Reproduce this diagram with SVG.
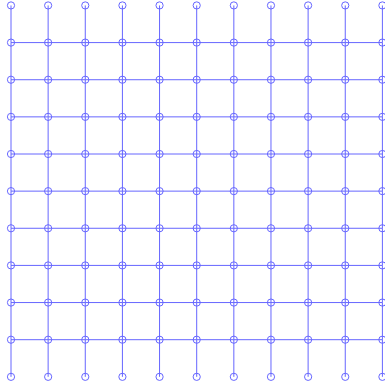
<svg xmlns="http://www.w3.org/2000/svg" xmlns:xlink="http://www.w3.org/1999/xlink" width="385" height="388" viewBox="0 0 385 388">
<style>
.e{stroke:#6666ff;stroke-width:1;fill:none}
.n{stroke:#6666ff;stroke-width:1;fill:none}
</style>
<defs><circle id="c" cx="0" cy="0" r="3.6" class="n"/></defs>
<rect width="385" height="388" fill="#ffffff"/>
<g id="connectors">
<line class="e" x1="11" y1="5.44" x2="11" y2="42.58"/><line class="e" x1="11" y1="42.58" x2="11" y2="79.72"/><line class="e" x1="11" y1="79.72" x2="11" y2="116.86"/><line class="e" x1="11" y1="116.86" x2="11" y2="154"/><line class="e" x1="11" y1="154" x2="11" y2="191.14"/><line class="e" x1="11" y1="191.14" x2="11" y2="228.28"/><line class="e" x1="11" y1="228.28" x2="11" y2="265.42"/><line class="e" x1="11" y1="265.42" x2="11" y2="302.56"/><line class="e" x1="11" y1="302.56" x2="11" y2="339.7"/><line class="e" x1="11" y1="339.7" x2="11" y2="376.84"/>
<line class="e" x1="48.14" y1="5.44" x2="48.14" y2="42.58"/><line class="e" x1="48.14" y1="42.58" x2="48.14" y2="79.72"/><line class="e" x1="48.14" y1="79.72" x2="48.14" y2="116.86"/><line class="e" x1="48.14" y1="116.86" x2="48.14" y2="154"/><line class="e" x1="48.14" y1="154" x2="48.14" y2="191.14"/><line class="e" x1="48.14" y1="191.14" x2="48.14" y2="228.28"/><line class="e" x1="48.14" y1="228.28" x2="48.14" y2="265.42"/><line class="e" x1="48.14" y1="265.42" x2="48.14" y2="302.56"/><line class="e" x1="48.14" y1="302.56" x2="48.14" y2="339.7"/><line class="e" x1="48.14" y1="339.7" x2="48.14" y2="376.84"/>
<line class="e" x1="85.28" y1="5.44" x2="85.28" y2="42.58"/><line class="e" x1="85.28" y1="42.58" x2="85.28" y2="79.72"/><line class="e" x1="85.28" y1="79.72" x2="85.28" y2="116.86"/><line class="e" x1="85.28" y1="116.86" x2="85.28" y2="154"/><line class="e" x1="85.28" y1="154" x2="85.28" y2="191.14"/><line class="e" x1="85.28" y1="191.14" x2="85.28" y2="228.28"/><line class="e" x1="85.28" y1="228.28" x2="85.28" y2="265.42"/><line class="e" x1="85.28" y1="265.42" x2="85.28" y2="302.56"/><line class="e" x1="85.28" y1="302.56" x2="85.28" y2="339.7"/><line class="e" x1="85.28" y1="339.7" x2="85.28" y2="376.84"/>
<line class="e" x1="122.42" y1="5.44" x2="122.42" y2="42.58"/><line class="e" x1="122.42" y1="42.58" x2="122.42" y2="79.72"/><line class="e" x1="122.42" y1="79.72" x2="122.42" y2="116.86"/><line class="e" x1="122.42" y1="116.86" x2="122.42" y2="154"/><line class="e" x1="122.42" y1="154" x2="122.42" y2="191.14"/><line class="e" x1="122.42" y1="191.14" x2="122.42" y2="228.28"/><line class="e" x1="122.42" y1="228.28" x2="122.42" y2="265.42"/><line class="e" x1="122.42" y1="265.42" x2="122.42" y2="302.56"/><line class="e" x1="122.42" y1="302.56" x2="122.42" y2="339.7"/><line class="e" x1="122.42" y1="339.7" x2="122.42" y2="376.84"/>
<line class="e" x1="159.56" y1="5.44" x2="159.56" y2="42.58"/><line class="e" x1="159.56" y1="42.58" x2="159.56" y2="79.72"/><line class="e" x1="159.56" y1="79.72" x2="159.56" y2="116.86"/><line class="e" x1="159.56" y1="116.86" x2="159.56" y2="154"/><line class="e" x1="159.56" y1="154" x2="159.56" y2="191.14"/><line class="e" x1="159.56" y1="191.14" x2="159.56" y2="228.28"/><line class="e" x1="159.56" y1="228.28" x2="159.56" y2="265.42"/><line class="e" x1="159.56" y1="265.42" x2="159.56" y2="302.56"/><line class="e" x1="159.56" y1="302.56" x2="159.56" y2="339.7"/><line class="e" x1="159.56" y1="339.7" x2="159.56" y2="376.84"/>
<line class="e" x1="196.7" y1="5.44" x2="196.7" y2="42.58"/><line class="e" x1="196.7" y1="42.58" x2="196.7" y2="79.72"/><line class="e" x1="196.7" y1="79.72" x2="196.7" y2="116.86"/><line class="e" x1="196.7" y1="116.86" x2="196.7" y2="154"/><line class="e" x1="196.7" y1="154" x2="196.7" y2="191.14"/><line class="e" x1="196.7" y1="191.14" x2="196.7" y2="228.28"/><line class="e" x1="196.7" y1="228.28" x2="196.7" y2="265.42"/><line class="e" x1="196.7" y1="265.42" x2="196.7" y2="302.56"/><line class="e" x1="196.7" y1="302.56" x2="196.7" y2="339.7"/><line class="e" x1="196.7" y1="339.7" x2="196.7" y2="376.84"/>
<line class="e" x1="233.84" y1="5.44" x2="233.84" y2="42.58"/><line class="e" x1="233.84" y1="42.58" x2="233.84" y2="79.72"/><line class="e" x1="233.84" y1="79.72" x2="233.84" y2="116.86"/><line class="e" x1="233.84" y1="116.86" x2="233.84" y2="154"/><line class="e" x1="233.84" y1="154" x2="233.84" y2="191.14"/><line class="e" x1="233.84" y1="191.14" x2="233.84" y2="228.28"/><line class="e" x1="233.84" y1="228.28" x2="233.84" y2="265.42"/><line class="e" x1="233.84" y1="265.42" x2="233.84" y2="302.56"/><line class="e" x1="233.84" y1="302.56" x2="233.84" y2="339.7"/><line class="e" x1="233.84" y1="339.7" x2="233.84" y2="376.84"/>
<line class="e" x1="270.98" y1="5.44" x2="270.98" y2="42.58"/><line class="e" x1="270.98" y1="42.58" x2="270.98" y2="79.72"/><line class="e" x1="270.98" y1="79.72" x2="270.98" y2="116.86"/><line class="e" x1="270.98" y1="116.86" x2="270.98" y2="154"/><line class="e" x1="270.98" y1="154" x2="270.98" y2="191.14"/><line class="e" x1="270.98" y1="191.14" x2="270.98" y2="228.28"/><line class="e" x1="270.98" y1="228.28" x2="270.98" y2="265.42"/><line class="e" x1="270.98" y1="265.42" x2="270.98" y2="302.56"/><line class="e" x1="270.98" y1="302.56" x2="270.98" y2="339.7"/><line class="e" x1="270.98" y1="339.7" x2="270.98" y2="376.84"/>
<line class="e" x1="308.12" y1="5.44" x2="308.12" y2="42.58"/><line class="e" x1="308.12" y1="42.58" x2="308.12" y2="79.72"/><line class="e" x1="308.12" y1="79.72" x2="308.12" y2="116.86"/><line class="e" x1="308.12" y1="116.86" x2="308.12" y2="154"/><line class="e" x1="308.12" y1="154" x2="308.12" y2="191.14"/><line class="e" x1="308.12" y1="191.14" x2="308.12" y2="228.28"/><line class="e" x1="308.12" y1="228.28" x2="308.12" y2="265.42"/><line class="e" x1="308.12" y1="265.42" x2="308.12" y2="302.56"/><line class="e" x1="308.12" y1="302.56" x2="308.12" y2="339.7"/><line class="e" x1="308.12" y1="339.7" x2="308.12" y2="376.84"/>
<line class="e" x1="345.26" y1="5.44" x2="345.26" y2="42.58"/><line class="e" x1="345.26" y1="42.58" x2="345.26" y2="79.72"/><line class="e" x1="345.26" y1="79.72" x2="345.26" y2="116.86"/><line class="e" x1="345.26" y1="116.86" x2="345.26" y2="154"/><line class="e" x1="345.26" y1="154" x2="345.26" y2="191.14"/><line class="e" x1="345.26" y1="191.14" x2="345.26" y2="228.28"/><line class="e" x1="345.26" y1="228.28" x2="345.26" y2="265.42"/><line class="e" x1="345.26" y1="265.42" x2="345.26" y2="302.56"/><line class="e" x1="345.26" y1="302.56" x2="345.26" y2="339.7"/><line class="e" x1="345.26" y1="339.7" x2="345.26" y2="376.84"/>
<line class="e" x1="382.4" y1="5.44" x2="382.4" y2="42.58"/><line class="e" x1="382.4" y1="42.58" x2="382.4" y2="79.72"/><line class="e" x1="382.4" y1="79.72" x2="382.4" y2="116.86"/><line class="e" x1="382.4" y1="116.86" x2="382.4" y2="154"/><line class="e" x1="382.4" y1="154" x2="382.4" y2="191.14"/><line class="e" x1="382.4" y1="191.14" x2="382.4" y2="228.28"/><line class="e" x1="382.4" y1="228.28" x2="382.4" y2="265.42"/><line class="e" x1="382.4" y1="265.42" x2="382.4" y2="302.56"/><line class="e" x1="382.4" y1="302.56" x2="382.4" y2="339.7"/><line class="e" x1="382.4" y1="339.7" x2="382.4" y2="376.84"/>
<line class="e" x1="11" y1="42.58" x2="48.14" y2="42.58"/><line class="e" x1="48.14" y1="42.58" x2="85.28" y2="42.58"/><line class="e" x1="85.28" y1="42.58" x2="122.42" y2="42.58"/><line class="e" x1="122.42" y1="42.58" x2="159.56" y2="42.58"/><line class="e" x1="159.56" y1="42.58" x2="196.7" y2="42.58"/><line class="e" x1="196.7" y1="42.58" x2="233.84" y2="42.58"/><line class="e" x1="233.84" y1="42.58" x2="270.98" y2="42.58"/><line class="e" x1="270.98" y1="42.58" x2="308.12" y2="42.58"/><line class="e" x1="308.12" y1="42.58" x2="345.26" y2="42.58"/><line class="e" x1="345.26" y1="42.58" x2="382.4" y2="42.58"/>
<line class="e" x1="11" y1="79.72" x2="48.14" y2="79.72"/><line class="e" x1="48.14" y1="79.72" x2="85.28" y2="79.72"/><line class="e" x1="85.28" y1="79.72" x2="122.42" y2="79.72"/><line class="e" x1="122.42" y1="79.72" x2="159.56" y2="79.72"/><line class="e" x1="159.56" y1="79.72" x2="196.7" y2="79.72"/><line class="e" x1="196.7" y1="79.72" x2="233.84" y2="79.72"/><line class="e" x1="233.84" y1="79.72" x2="270.98" y2="79.72"/><line class="e" x1="270.98" y1="79.72" x2="308.12" y2="79.72"/><line class="e" x1="308.12" y1="79.72" x2="345.26" y2="79.72"/><line class="e" x1="345.26" y1="79.72" x2="382.4" y2="79.72"/>
<line class="e" x1="11" y1="116.86" x2="48.14" y2="116.86"/><line class="e" x1="48.14" y1="116.86" x2="85.28" y2="116.86"/><line class="e" x1="85.28" y1="116.86" x2="122.42" y2="116.86"/><line class="e" x1="122.42" y1="116.86" x2="159.56" y2="116.86"/><line class="e" x1="159.56" y1="116.86" x2="196.7" y2="116.86"/><line class="e" x1="196.7" y1="116.86" x2="233.84" y2="116.86"/><line class="e" x1="233.84" y1="116.86" x2="270.98" y2="116.86"/><line class="e" x1="270.98" y1="116.86" x2="308.12" y2="116.86"/><line class="e" x1="308.12" y1="116.86" x2="345.26" y2="116.86"/><line class="e" x1="345.26" y1="116.86" x2="382.4" y2="116.86"/>
<line class="e" x1="11" y1="154" x2="48.14" y2="154"/><line class="e" x1="48.14" y1="154" x2="85.28" y2="154"/><line class="e" x1="85.28" y1="154" x2="122.42" y2="154"/><line class="e" x1="122.42" y1="154" x2="159.56" y2="154"/><line class="e" x1="159.56" y1="154" x2="196.7" y2="154"/><line class="e" x1="196.7" y1="154" x2="233.84" y2="154"/><line class="e" x1="233.84" y1="154" x2="270.98" y2="154"/><line class="e" x1="270.98" y1="154" x2="308.12" y2="154"/><line class="e" x1="308.12" y1="154" x2="345.26" y2="154"/><line class="e" x1="345.26" y1="154" x2="382.4" y2="154"/>
<line class="e" x1="11" y1="191.14" x2="48.14" y2="191.14"/><line class="e" x1="48.14" y1="191.14" x2="85.28" y2="191.14"/><line class="e" x1="85.28" y1="191.14" x2="122.42" y2="191.14"/><line class="e" x1="122.42" y1="191.14" x2="159.56" y2="191.14"/><line class="e" x1="159.56" y1="191.14" x2="196.7" y2="191.14"/><line class="e" x1="196.7" y1="191.14" x2="233.84" y2="191.14"/><line class="e" x1="233.84" y1="191.14" x2="270.98" y2="191.14"/><line class="e" x1="270.98" y1="191.14" x2="308.12" y2="191.14"/><line class="e" x1="308.12" y1="191.14" x2="345.26" y2="191.14"/><line class="e" x1="345.26" y1="191.14" x2="382.4" y2="191.14"/>
<line class="e" x1="11" y1="228.28" x2="48.14" y2="228.28"/><line class="e" x1="48.14" y1="228.28" x2="85.28" y2="228.28"/><line class="e" x1="85.28" y1="228.28" x2="122.42" y2="228.28"/><line class="e" x1="122.42" y1="228.28" x2="159.56" y2="228.28"/><line class="e" x1="159.56" y1="228.28" x2="196.7" y2="228.28"/><line class="e" x1="196.7" y1="228.28" x2="233.84" y2="228.28"/><line class="e" x1="233.84" y1="228.28" x2="270.98" y2="228.28"/><line class="e" x1="270.98" y1="228.28" x2="308.12" y2="228.28"/><line class="e" x1="308.12" y1="228.28" x2="345.26" y2="228.28"/><line class="e" x1="345.26" y1="228.28" x2="382.4" y2="228.28"/>
<line class="e" x1="11" y1="265.42" x2="48.14" y2="265.42"/><line class="e" x1="48.14" y1="265.42" x2="85.28" y2="265.42"/><line class="e" x1="85.28" y1="265.42" x2="122.42" y2="265.42"/><line class="e" x1="122.42" y1="265.42" x2="159.56" y2="265.42"/><line class="e" x1="159.56" y1="265.42" x2="196.7" y2="265.42"/><line class="e" x1="196.7" y1="265.42" x2="233.84" y2="265.42"/><line class="e" x1="233.84" y1="265.42" x2="270.98" y2="265.42"/><line class="e" x1="270.98" y1="265.42" x2="308.12" y2="265.42"/><line class="e" x1="308.12" y1="265.42" x2="345.26" y2="265.42"/><line class="e" x1="345.26" y1="265.42" x2="382.4" y2="265.42"/>
<line class="e" x1="11" y1="302.56" x2="48.14" y2="302.56"/><line class="e" x1="48.14" y1="302.56" x2="85.28" y2="302.56"/><line class="e" x1="85.28" y1="302.56" x2="122.42" y2="302.56"/><line class="e" x1="122.42" y1="302.56" x2="159.56" y2="302.56"/><line class="e" x1="159.56" y1="302.56" x2="196.7" y2="302.56"/><line class="e" x1="196.7" y1="302.56" x2="233.84" y2="302.56"/><line class="e" x1="233.84" y1="302.56" x2="270.98" y2="302.56"/><line class="e" x1="270.98" y1="302.56" x2="308.12" y2="302.56"/><line class="e" x1="308.12" y1="302.56" x2="345.26" y2="302.56"/><line class="e" x1="345.26" y1="302.56" x2="382.4" y2="302.56"/>
<line class="e" x1="11" y1="339.7" x2="48.14" y2="339.7"/><line class="e" x1="48.14" y1="339.7" x2="85.28" y2="339.7"/><line class="e" x1="85.28" y1="339.7" x2="122.42" y2="339.7"/><line class="e" x1="122.42" y1="339.7" x2="159.56" y2="339.7"/><line class="e" x1="159.56" y1="339.7" x2="196.7" y2="339.7"/><line class="e" x1="196.7" y1="339.7" x2="233.84" y2="339.7"/><line class="e" x1="233.84" y1="339.7" x2="270.98" y2="339.7"/><line class="e" x1="270.98" y1="339.7" x2="308.12" y2="339.7"/><line class="e" x1="308.12" y1="339.7" x2="345.26" y2="339.7"/><line class="e" x1="345.26" y1="339.7" x2="382.4" y2="339.7"/>
</g>
<g id="nodes">
<g id="n0-0"><use xlink:href="#c" x="11" y="5.44"/></g><g id="n0-1"><use xlink:href="#c" x="48.14" y="5.44"/></g><g id="n0-2"><use xlink:href="#c" x="85.28" y="5.44"/></g><g id="n0-3"><use xlink:href="#c" x="122.42" y="5.44"/></g><g id="n0-4"><use xlink:href="#c" x="159.56" y="5.44"/></g><g id="n0-5"><use xlink:href="#c" x="196.7" y="5.44"/></g><g id="n0-6"><use xlink:href="#c" x="233.84" y="5.44"/></g><g id="n0-7"><use xlink:href="#c" x="270.98" y="5.44"/></g><g id="n0-8"><use xlink:href="#c" x="308.12" y="5.44"/></g><g id="n0-9"><use xlink:href="#c" x="345.26" y="5.44"/></g><g id="n0-10"><use xlink:href="#c" x="382.4" y="5.44"/></g>
<g id="n1-0"><use xlink:href="#c" x="11" y="42.58"/></g><g id="n1-1"><use xlink:href="#c" x="48.14" y="42.58"/></g><g id="n1-2"><use xlink:href="#c" x="85.28" y="42.58"/></g><g id="n1-3"><use xlink:href="#c" x="122.42" y="42.58"/></g><g id="n1-4"><use xlink:href="#c" x="159.56" y="42.58"/></g><g id="n1-5"><use xlink:href="#c" x="196.7" y="42.58"/></g><g id="n1-6"><use xlink:href="#c" x="233.84" y="42.58"/></g><g id="n1-7"><use xlink:href="#c" x="270.98" y="42.58"/></g><g id="n1-8"><use xlink:href="#c" x="308.12" y="42.58"/></g><g id="n1-9"><use xlink:href="#c" x="345.26" y="42.58"/></g><g id="n1-10"><use xlink:href="#c" x="382.4" y="42.58"/></g>
<g id="n2-0"><use xlink:href="#c" x="11" y="79.72"/></g><g id="n2-1"><use xlink:href="#c" x="48.14" y="79.72"/></g><g id="n2-2"><use xlink:href="#c" x="85.28" y="79.72"/></g><g id="n2-3"><use xlink:href="#c" x="122.42" y="79.72"/></g><g id="n2-4"><use xlink:href="#c" x="159.56" y="79.72"/></g><g id="n2-5"><use xlink:href="#c" x="196.7" y="79.72"/></g><g id="n2-6"><use xlink:href="#c" x="233.84" y="79.72"/></g><g id="n2-7"><use xlink:href="#c" x="270.98" y="79.72"/></g><g id="n2-8"><use xlink:href="#c" x="308.12" y="79.72"/></g><g id="n2-9"><use xlink:href="#c" x="345.26" y="79.72"/></g><g id="n2-10"><use xlink:href="#c" x="382.4" y="79.72"/></g>
<g id="n3-0"><use xlink:href="#c" x="11" y="116.86"/></g><g id="n3-1"><use xlink:href="#c" x="48.14" y="116.86"/></g><g id="n3-2"><use xlink:href="#c" x="85.28" y="116.86"/></g><g id="n3-3"><use xlink:href="#c" x="122.42" y="116.86"/></g><g id="n3-4"><use xlink:href="#c" x="159.56" y="116.86"/></g><g id="n3-5"><use xlink:href="#c" x="196.7" y="116.86"/></g><g id="n3-6"><use xlink:href="#c" x="233.84" y="116.86"/></g><g id="n3-7"><use xlink:href="#c" x="270.98" y="116.86"/></g><g id="n3-8"><use xlink:href="#c" x="308.12" y="116.86"/></g><g id="n3-9"><use xlink:href="#c" x="345.26" y="116.86"/></g><g id="n3-10"><use xlink:href="#c" x="382.4" y="116.86"/></g>
<g id="n4-0"><use xlink:href="#c" x="11" y="154"/></g><g id="n4-1"><use xlink:href="#c" x="48.14" y="154"/></g><g id="n4-2"><use xlink:href="#c" x="85.28" y="154"/></g><g id="n4-3"><use xlink:href="#c" x="122.42" y="154"/></g><g id="n4-4"><use xlink:href="#c" x="159.56" y="154"/></g><g id="n4-5"><use xlink:href="#c" x="196.7" y="154"/></g><g id="n4-6"><use xlink:href="#c" x="233.84" y="154"/></g><g id="n4-7"><use xlink:href="#c" x="270.98" y="154"/></g><g id="n4-8"><use xlink:href="#c" x="308.12" y="154"/></g><g id="n4-9"><use xlink:href="#c" x="345.26" y="154"/></g><g id="n4-10"><use xlink:href="#c" x="382.4" y="154"/></g>
<g id="n5-0"><use xlink:href="#c" x="11" y="191.14"/></g><g id="n5-1"><use xlink:href="#c" x="48.14" y="191.14"/></g><g id="n5-2"><use xlink:href="#c" x="85.28" y="191.14"/></g><g id="n5-3"><use xlink:href="#c" x="122.42" y="191.14"/></g><g id="n5-4"><use xlink:href="#c" x="159.56" y="191.14"/></g><g id="n5-5"><use xlink:href="#c" x="196.7" y="191.14"/></g><g id="n5-6"><use xlink:href="#c" x="233.84" y="191.14"/></g><g id="n5-7"><use xlink:href="#c" x="270.98" y="191.14"/></g><g id="n5-8"><use xlink:href="#c" x="308.12" y="191.14"/></g><g id="n5-9"><use xlink:href="#c" x="345.26" y="191.14"/></g><g id="n5-10"><use xlink:href="#c" x="382.4" y="191.14"/></g>
<g id="n6-0"><use xlink:href="#c" x="11" y="228.28"/></g><g id="n6-1"><use xlink:href="#c" x="48.14" y="228.28"/></g><g id="n6-2"><use xlink:href="#c" x="85.28" y="228.28"/></g><g id="n6-3"><use xlink:href="#c" x="122.42" y="228.28"/></g><g id="n6-4"><use xlink:href="#c" x="159.56" y="228.28"/></g><g id="n6-5"><use xlink:href="#c" x="196.7" y="228.28"/></g><g id="n6-6"><use xlink:href="#c" x="233.84" y="228.28"/></g><g id="n6-7"><use xlink:href="#c" x="270.98" y="228.28"/></g><g id="n6-8"><use xlink:href="#c" x="308.12" y="228.28"/></g><g id="n6-9"><use xlink:href="#c" x="345.26" y="228.28"/></g><g id="n6-10"><use xlink:href="#c" x="382.4" y="228.28"/></g>
<g id="n7-0"><use xlink:href="#c" x="11" y="265.42"/></g><g id="n7-1"><use xlink:href="#c" x="48.14" y="265.42"/></g><g id="n7-2"><use xlink:href="#c" x="85.28" y="265.42"/></g><g id="n7-3"><use xlink:href="#c" x="122.42" y="265.42"/></g><g id="n7-4"><use xlink:href="#c" x="159.56" y="265.42"/></g><g id="n7-5"><use xlink:href="#c" x="196.7" y="265.42"/></g><g id="n7-6"><use xlink:href="#c" x="233.84" y="265.42"/></g><g id="n7-7"><use xlink:href="#c" x="270.98" y="265.42"/></g><g id="n7-8"><use xlink:href="#c" x="308.12" y="265.42"/></g><g id="n7-9"><use xlink:href="#c" x="345.26" y="265.42"/></g><g id="n7-10"><use xlink:href="#c" x="382.4" y="265.42"/></g>
<g id="n8-0"><use xlink:href="#c" x="11" y="302.56"/></g><g id="n8-1"><use xlink:href="#c" x="48.14" y="302.56"/></g><g id="n8-2"><use xlink:href="#c" x="85.28" y="302.56"/></g><g id="n8-3"><use xlink:href="#c" x="122.42" y="302.56"/></g><g id="n8-4"><use xlink:href="#c" x="159.56" y="302.56"/></g><g id="n8-5"><use xlink:href="#c" x="196.7" y="302.56"/></g><g id="n8-6"><use xlink:href="#c" x="233.84" y="302.56"/></g><g id="n8-7"><use xlink:href="#c" x="270.98" y="302.56"/></g><g id="n8-8"><use xlink:href="#c" x="308.12" y="302.56"/></g><g id="n8-9"><use xlink:href="#c" x="345.26" y="302.56"/></g><g id="n8-10"><use xlink:href="#c" x="382.4" y="302.56"/></g>
<g id="n9-0"><use xlink:href="#c" x="11" y="339.7"/></g><g id="n9-1"><use xlink:href="#c" x="48.14" y="339.7"/></g><g id="n9-2"><use xlink:href="#c" x="85.28" y="339.7"/></g><g id="n9-3"><use xlink:href="#c" x="122.42" y="339.7"/></g><g id="n9-4"><use xlink:href="#c" x="159.56" y="339.7"/></g><g id="n9-5"><use xlink:href="#c" x="196.7" y="339.7"/></g><g id="n9-6"><use xlink:href="#c" x="233.84" y="339.7"/></g><g id="n9-7"><use xlink:href="#c" x="270.98" y="339.7"/></g><g id="n9-8"><use xlink:href="#c" x="308.12" y="339.7"/></g><g id="n9-9"><use xlink:href="#c" x="345.26" y="339.7"/></g><g id="n9-10"><use xlink:href="#c" x="382.4" y="339.7"/></g>
<g id="n10-0"><use xlink:href="#c" x="11" y="376.84"/></g><g id="n10-1"><use xlink:href="#c" x="48.14" y="376.84"/></g><g id="n10-2"><use xlink:href="#c" x="85.28" y="376.84"/></g><g id="n10-3"><use xlink:href="#c" x="122.42" y="376.84"/></g><g id="n10-4"><use xlink:href="#c" x="159.56" y="376.84"/></g><g id="n10-5"><use xlink:href="#c" x="196.7" y="376.84"/></g><g id="n10-6"><use xlink:href="#c" x="233.84" y="376.84"/></g><g id="n10-7"><use xlink:href="#c" x="270.98" y="376.84"/></g><g id="n10-8"><use xlink:href="#c" x="308.12" y="376.84"/></g><g id="n10-9"><use xlink:href="#c" x="345.26" y="376.84"/></g><g id="n10-10"><use xlink:href="#c" x="382.4" y="376.84"/></g>
</g>
</svg>
